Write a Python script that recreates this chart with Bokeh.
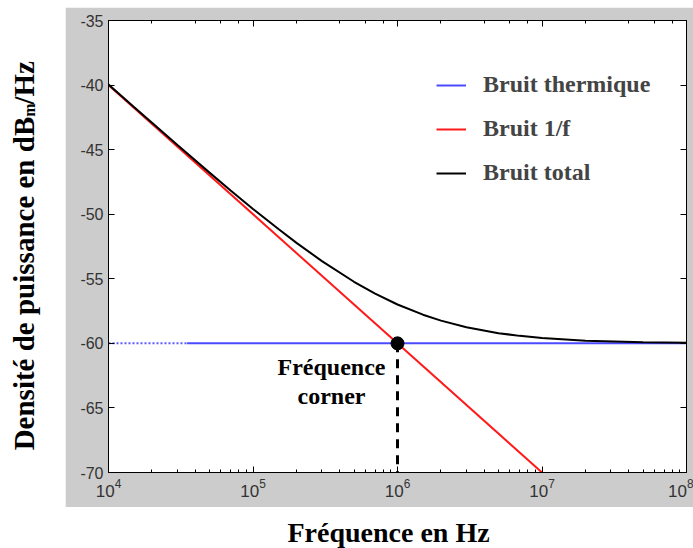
import math
from bokeh.plotting import figure
from bokeh.layouts import row, column, Spacer
from bokeh.models import (Range1d, LinearAxis, LogAxis, Legend, LegendItem,
                          FixedTicker, ColumnDataSource)
from bokeh.core.properties import value
from bokeh.embed import file_html
from bokeh.resources import INLINE

# ---------------- data ----------------
freq_thermal = [1e4, 3.5e4, 1e8]
thermal_db = [-60, -60, -60]

freq_flicker = [1e4, 1e7]
flicker_db = [-40, -70]

freq_total = [1e4, 1.5e4, 2e4, 3e4, 5e4, 7e4, 1e5, 1.5e5, 2e5, 3e5, 5e5, 7e5,
              1e6, 1.5e6, 2e6, 3e6, 5e6, 7e6, 1e7, 2e7, 5e7, 1e8]
total_db = [-39.96, -41.70, -42.92, -44.64, -46.78, -48.16, -49.59, -51.15,
            -52.22, -53.63, -55.23, -56.15, -56.99, -57.78, -58.24, -58.75,
            -59.21, -59.42, -59.59, -59.79, -59.91, -59.96]

corner_freq = [1e6]
corner_db = [-60]
y_bottom = [-70]

y_ticks = [-70, -65, -60, -55, -50, -45, -40, -35]
legend_labels = ["Bruit thermique", "Bruit 1/f", "Bruit total"]
corner_label = ["Fréquence", "corner"]
x_title = "Fréquence en Hz"
y_title_parts = ["Densité de puissance en dB", "m", "/Hz"]

GRAY = "#cccccc"
SERIF = value("Liberation Serif")

# ---------------- main plot ----------------
p = figure(width=628, height=500, x_axis_type="log",
           x_range=Range1d(1e4, 1e8), y_range=Range1d(-70, -35),
           output_backend="svg", toolbar_location=None,
           min_border_left=43, min_border_right=7, min_border_top=13,
           min_border_bottom=35, border_fill_color=GRAY,
           background_fill_color="white", outline_line_color="black")
p.grid.visible = False

for ax in p.xaxis:
    ax.major_tick_in = 6
    ax.major_tick_out = 0
    ax.minor_tick_in = 3
    ax.minor_tick_out = 0
    ax.major_label_text_font = "Liberation Sans"
    ax.major_label_text_font_size = "17px"
    ax.major_label_text_color = "#333333"
    ax.major_label_standoff = 6
    ax.axis_line_color = "black"

for ax in p.yaxis:
    ax.ticker = FixedTicker(ticks=y_ticks)
    ax.major_label_overrides = {t: str(t) for t in y_ticks}
    ax.major_tick_in = 6
    ax.major_tick_out = 0
    ax.minor_tick_line_color = None
    ax.major_label_text_font = "Liberation Sans"
    ax.major_label_text_font_size = "16px"
    ax.major_label_text_color = "#333333"
    ax.major_label_standoff = 5
    ax.axis_line_color = "black"

right_ax = LinearAxis(ticker=FixedTicker(ticks=y_ticks),
                      major_label_text_font_size="1px", major_label_text_color=None,
                      major_label_standoff=0,
                      major_tick_in=6, major_tick_out=0,
                      minor_tick_line_color=None, axis_line_color="black")
p.add_layout(right_ax, "right")
top_ax = LogAxis(major_label_text_font_size="1px", major_label_text_color=None,
                 major_label_standoff=0,
                 major_tick_in=6, major_tick_out=0, minor_tick_in=3,
                 minor_tick_out=0, axis_line_color="black")
p.add_layout(top_ax, "above")

r_th_dot = p.line(freq_thermal[:2], thermal_db[:2], line_color="#5a5aff",
                  line_width=2, line_dash="2 2")
r_th = p.line(freq_thermal[1:], thermal_db[1:], line_color="#4a4aff", line_width=2)
r_fl = p.line(freq_flicker, flicker_db, line_color="#ff1a1a", line_width=2)
r_tot = p.line(freq_total, total_db, line_color="black", line_width=2)

p.segment(x0=corner_freq, y0=corner_db, x1=corner_freq, y1=y_bottom,
          line_color="black", line_width=3, line_dash="9 7")
p.scatter(corner_freq, corner_db, size=13, color="black")

lbl_src = ColumnDataSource(dict(x=corner_freq * 2, y=corner_db * 2,
                                text=corner_label, yo=[24, 53]))
p.text(x="x", y="y", text="text", source=lbl_src, x_offset=-66, y_offset="yo",
       text_align="center", text_baseline="middle", text_font=SERIF,
       text_font_style="bold", text_font_size="24px", text_color="black")

legend = Legend(items=[LegendItem(label=legend_labels[0], renderers=[r_th]),
                       LegendItem(label=legend_labels[1], renderers=[r_fl]),
                       LegendItem(label=legend_labels[2], renderers=[r_tot])],
                location=(328, 286), border_line_color=None,
                background_fill_alpha=0, label_text_font="Liberation Serif",
                label_text_font_style="bold", label_text_font_size="24px",
                glyph_width=30, glyph_height=20, label_height=20, spacing=17,
                label_standoff=17, padding=0, margin=0)
p.add_layout(legend)

# ---------------- y title ----------------
yl = figure(width=65, height=500, x_range=Range1d(0, 65), y_range=Range1d(0, 500),
            x_axis_type=None, y_axis_type=None, min_border=0,
            outline_line_color=None, toolbar_location=None, output_backend="svg",
            background_fill_color="white", border_fill_color="white")
yl.text(x=[23], y=[393.5], text=[y_title_parts[0]], angle=math.pi / 2,
        text_align="right", text_baseline="alphabetic", text_font=SERIF,
        text_font_style="bold", text_font_size="29px", text_color="black")
yl.text(x=[29], y=[393.5], text=[y_title_parts[1]], angle=math.pi / 2,
        text_align="left", text_baseline="alphabetic", text_font=SERIF,
        text_font_style="bold", text_font_size="16px", text_color="black")
yl.text(x=[23], y=[407], text=[y_title_parts[2]], angle=math.pi / 2,
        text_align="left", text_baseline="alphabetic", text_font=SERIF,
        text_font_style="bold", text_font_size="29px", text_color="black")

# ---------------- x title ----------------
xl = figure(width=693, height=41, x_range=Range1d(0, 693), y_range=Range1d(0, 41),
            x_axis_type=None, y_axis_type=None, min_border=0,
            outline_line_color=None, toolbar_location=None, output_backend="svg",
            background_fill_color="white", border_fill_color="white")
xl.text(x=[388], y=[16], text=[x_title], text_align="center",
        text_baseline="middle", text_font=SERIF, text_font_style="bold",
        text_font_size="28px", text_color="black")

layout = column(Spacer(width=693, height=7), row(yl, p, spacing=0), xl, spacing=0)
open("out.html", "w").write(file_html(layout, INLINE))
